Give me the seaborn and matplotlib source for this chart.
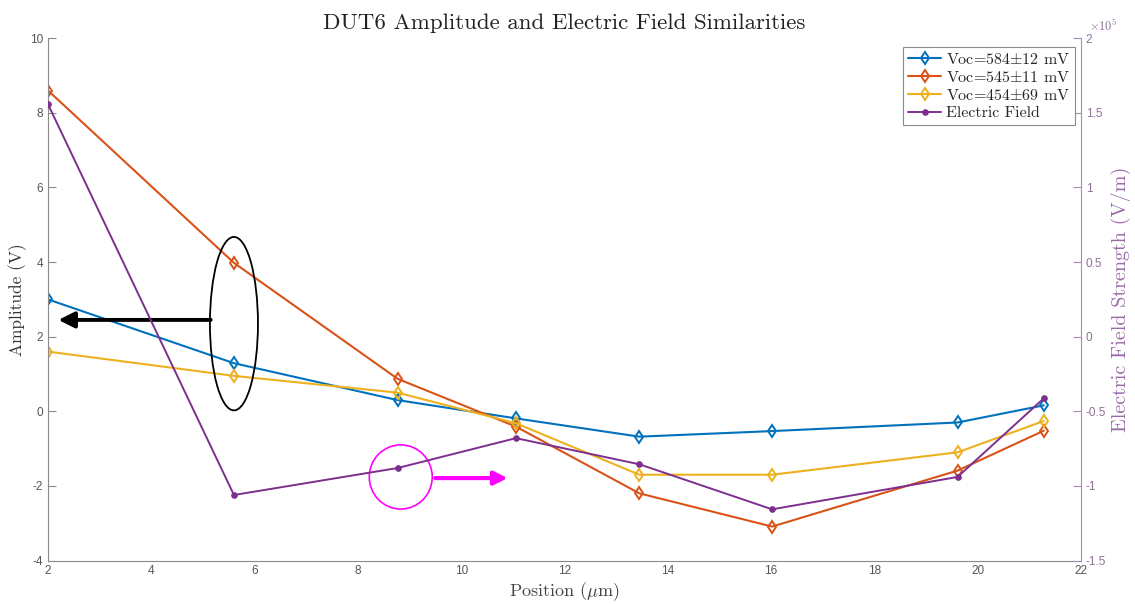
import matplotlib
matplotlib.use("Agg")
import matplotlib.pyplot as plt
import seaborn as sns
import numpy as np
from matplotlib.patches import Ellipse
from matplotlib.ticker import FuncFormatter, MultipleLocator

# ---------------- data ----------------
position = [2.0, 5.6, 8.77, 11.06, 13.45, 16.02, 19.61, 21.28]
amp_584 = [3.0, 1.29, 0.30, -0.19, -0.68, -0.53, -0.30, 0.16]
amp_545 = [8.6, 3.98, 0.87, -0.41, -2.20, -3.09, -1.59, -0.52]
amp_454 = [1.6, 0.95, 0.50, -0.32, -1.70, -1.70, -1.10, -0.26]
efield = [1.558e5, -1.061e5, -0.88e5, -0.68e5, -0.855e5, -1.157e5, -0.94e5, -0.413e5]

labels = ["Voc=584$\\pm$12 mV", "Voc=545$\\pm$11 mV", "Voc=454$\\pm$69 mV", "Electric Field"]
colors = ["#0072BD", "#D95319", "#EDB120", "#7E2F8E"]
x_ticks = [2, 4, 6, 8, 10, 12, 14, 16, 18, 20, 22]
EXP = 1e5

# ---------------- style ----------------
sns.set_style("white")
plt.rcParams["font.family"] = ["Liberation Sans", "DejaVu Sans"]
plt.rcParams["mathtext.fontset"] = "cm"
plt.rcParams["axes.unicode_minus"] = False
SERIF = "cmr10"

fig = plt.figure(figsize=(11.35, 6.04), dpi=100)
ax = fig.add_axes([0.0423, 0.072, 0.9101, 0.8646])
ax2 = ax.twinx()

for ys, c, lab in zip([amp_584, amp_545, amp_454], colors[:3], labels[:3]):
    sns.lineplot(x=position, y=ys, ax=ax, color=c, lw=1.5, marker="d", markersize=6,
                 markerfacecolor="none", markeredgecolor=c, markeredgewidth=1.4,
                 sort=False, estimator=None, label=lab, legend=False)
sns.lineplot(x=position, y=efield, ax=ax2, color=colors[3], lw=1.4, marker="o",
             markersize=4, markerfacecolor=colors[3], markeredgecolor=colors[3],
             sort=False, estimator=None, label=labels[3], legend=False)

# axes limits and ticks
ax.set_xlim(2, 22)
ax.set_ylim(-4, 10)
ax2.set_ylim(-1.5 * EXP, 2 * EXP)
ax.set_xticks(x_ticks)
ax.yaxis.set_major_locator(MultipleLocator(2))
ax2.yaxis.set_major_locator(MultipleLocator(0.5 * EXP))
ax2.yaxis.set_major_formatter(FuncFormatter(lambda v, p: f"{v / EXP:g}"))

purple_axis = "#a98bb2"
purple_txt = "#8c6f96"
for a in (ax, ax2):
    a.spines["top"].set_visible(False)
ax.spines["left"].set_color("#8a8a8a")
ax.spines["bottom"].set_color("#8a8a8a")
ax.spines["right"].set_visible(False)
ax2.spines["right"].set_color(purple_axis)
ax2.spines["left"].set_visible(False)
ax2.spines["bottom"].set_visible(False)

ax.tick_params(axis="both", direction="in", length=6, width=0.8, colors="#8a8a8a",
               labelcolor="#555555", labelsize=8.5)
ax2.tick_params(axis="y", direction="in", length=6, width=0.8, colors=purple_axis,
                labelcolor=purple_txt, labelsize=8.5)
ax2.text(1.008, 1.008, "$\\times10^{5}$", transform=ax2.transAxes, ha="left", va="bottom",
         color=purple_txt, fontsize=9)

ax.set_xlabel("Position ($\\mu$m)", fontfamily=SERIF, fontsize=13, color="#444444", labelpad=2)
ax.set_ylabel("Amplitude (V)", fontfamily=SERIF, fontsize=12.5, color="#333333", labelpad=2)
ax2.set_ylabel("Electric Field Strength (V/m)", fontfamily=SERIF, fontsize=14.5,
               color="#9a6aa8", labelpad=3)
ax.set_title("DUT6 Amplitude and Electric Field Similarities", fontfamily=SERIF,
             fontsize=16.5, color="#222222", pad=7)

# annotations (ellipse + arrows)
ax.add_patch(Ellipse((5.6, 2.35), 0.93, 4.65, fill=False, edgecolor="black", lw=1.3, zorder=5))
ax.annotate("", xy=(2.2, 2.45), xytext=(5.15, 2.45),
            arrowprops=dict(arrowstyle="-|>", color="black", lw=2.8, mutation_scale=24,
                            shrinkA=0, shrinkB=0), zorder=5)
ax.add_patch(Ellipse((8.83, -1.76), 1.22, 1.72, fill=False, edgecolor="#ff00ff", lw=1.2, zorder=5))
ax.annotate("", xy=(10.9, -1.79), xytext=(9.5, -1.79),
            arrowprops=dict(arrowstyle="-|>", color="#ff00ff", lw=3, mutation_scale=20,
                            shrinkA=0, shrinkB=0), zorder=5)

# legend combining both axes
h1, l1 = ax.get_legend_handles_labels()
h2, l2 = ax2.get_legend_handles_labels()
leg = ax2.legend(h1 + h2, l1 + l2, loc="upper right", bbox_to_anchor=(0.999, 0.993),
                 prop={"family": SERIF, "size": 11.5}, frameon=True, fancybox=False,
                 framealpha=1, edgecolor="#8a8a8a", handlelength=2.1, handletextpad=0.3,
                 borderpad=0.3, labelspacing=0.2, borderaxespad=0.3)
leg.get_frame().set_linewidth(0.8)

fig.savefig("out.png", dpi=100)
